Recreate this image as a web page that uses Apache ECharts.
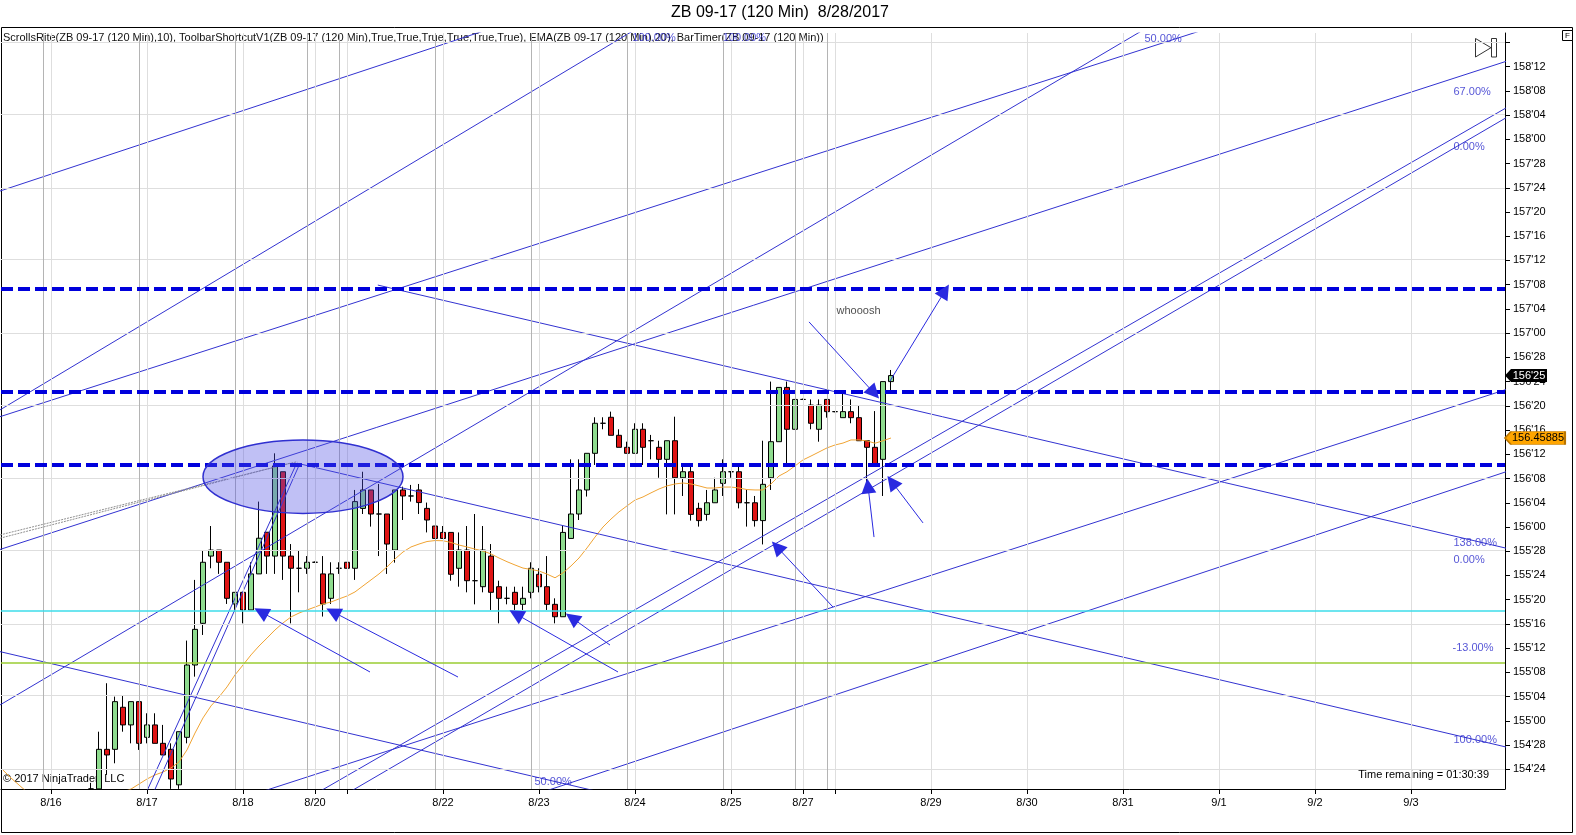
<!DOCTYPE html>
<html><head><meta charset="utf-8">
<script src="https://cdn.jsdelivr.net/npm/echarts@6/dist/echarts.min.js"></script>
<style>html,body{margin:0;padding:0;background:#fff}#c{width:1576px;height:835px}</style>
</head><body><div id="c"></div>
<script>
// ---------- data ----------
const firstBar = -1;
const opens = [
154.649,154.649,154.853,154.853,155.070,154.979,155.099,154.915,154.979,154.884,
154.853,154.67,154.915,155.288,155.503,155.850,155.881,155.818,155.603,155.663,
155.572,155.758,155.973,155.850,156.285,155.850,155.787,155.787,155.818,155.758,
155.632,155.787,155.818,155.787,156.096,156.191,156.067,156.067,155.881,156.191,
156.160,156.191,156.096,156.005,155.972,155.972,155.787,155.881,155.723,155.692,
155.850,155.692,155.632,155.663,155.601,155.663,155.756,155.692,155.601,155.537,
155.941,156.067,156.191,156.380,156.535,156.566,156.473,156.411,156.380,156.504,
156.445,156.411,156.349,156.445,156.254,156.285,156.096,156.065,156.125,156.225,
156.285,156.285,156.125,156.125,156.033,156.254,156.440,156.720,156.504,156.658,
156.629,156.504,156.658,156.595,156.564,156.595,156.564,156.445,156.411,156.349,
156.750];
const closes = [
154.649,154.853,154.824,155.099,154.979,155.099,154.884,154.979,154.884,154.824,
154.70,154.944,155.288,155.472,155.818,155.881,155.818,155.632,155.663,155.572,
155.758,155.942,155.850,156.315,155.850,155.787,155.787,155.818,155.818,155.603,
155.758,155.787,155.787,156.131,156.191,156.067,156.067,155.912,156.191,156.160,
156.160,156.126,156.036,155.941,155.941,155.756,155.881,155.723,155.723,155.881,
155.663,155.632,155.632,155.601,155.632,155.787,155.692,155.601,155.537,155.972,
156.067,156.191,156.380,156.535,156.535,156.473,156.411,156.380,156.504,156.411,
156.445,156.349,156.445,156.254,156.285,156.065,156.033,156.125,156.191,156.285,
156.285,156.125,156.125,156.033,156.220,156.440,156.720,156.504,156.658,156.658,
156.535,156.629,156.595,156.595,156.595,156.564,156.445,156.411,156.320,156.750,
156.781];
const lows = [
154.649,154.649,154.721,154.781,154.944,154.884,154.850,154.884,154.884,154.824,
154.649,154.649,154.884,155.228,155.443,155.787,155.758,155.603,155.563,155.503,
155.572,155.758,155.758,155.758,155.727,155.503,155.663,155.758,155.815,155.538,
155.603,155.758,155.787,155.727,156.067,156.002,155.850,155.758,155.816,156.036,
156.131,156.067,155.972,155.941,155.941,155.723,155.692,155.663,155.601,155.663,
155.572,155.503,155.601,155.572,155.572,155.632,155.663,155.572,155.503,155.537,
155.941,156.036,156.157,156.320,156.504,156.473,156.411,156.380,156.380,156.320,
156.349,156.254,156.065,156.065,156.160,156.033,156.002,156.033,156.125,156.160,
156.254,156.096,156.002,156.002,155.910,156.191,156.440,156.320,156.504,156.655,
156.504,156.440,156.564,156.592,156.564,156.535,156.445,156.225,156.320,156.160,
156.689];
const highs = [
154.68,154.944,155.194,155.125,155.128,155.100,155.100,155.039,155.039,154.979,
154.884,154.944,155.414,155.727,155.881,156.005,155.881,155.818,155.663,155.663,
155.818,156.131,155.973,156.380,156.285,155.912,155.881,155.850,155.822,155.850,
155.818,155.818,155.818,156.191,156.285,156.191,156.222,156.067,156.191,156.208,
156.217,156.222,156.126,156.005,156.005,155.972,155.972,156.005,156.067,156.005,
155.912,155.723,155.692,155.692,155.692,155.818,155.787,155.850,155.632,156.005,
156.349,156.349,156.380,156.566,156.566,156.595,156.504,156.440,156.535,156.535,
156.475,156.445,156.445,156.569,156.320,156.320,156.125,156.191,156.254,156.349,
156.285,156.320,156.191,156.160,156.445,156.750,156.720,156.750,156.658,156.662,
156.658,156.658,156.658,156.598,156.689,156.658,156.629,156.445,156.598,156.750,
156.810];

const emaFirstBar = -12;
const emaValues = [
154.746,154.705,154.669,154.633,154.620,154.610,154.605,154.600,154.600,154.600,
154.600,154.605,154.610,154.615,154.625,154.633,154.648,154.674,154.700,154.721,
154.736,154.757,154.788,154.850,154.937,155.015,155.077,155.123,155.175,155.237,
155.288,155.340,155.386,155.427,155.469,155.505,155.536,155.556,155.572,155.587,
155.603,155.613,155.629,155.644,155.665,155.696,155.727,155.758,155.794,155.835,
155.871,155.897,155.912,155.925,155.930,155.929,155.920,155.907,155.897,155.886,
155.876,155.861,155.840,155.821,155.804,155.788,155.781,155.773,155.757,155.738,
155.763,155.799,155.840,155.892,155.948,156.000,156.041,156.078,156.109,156.139,
156.155,156.176,156.196,156.212,156.222,156.227,156.222,156.212,156.201,156.201,
156.206,156.206,156.201,156.193,156.191,156.191,156.222,156.263,156.285,156.315,
156.346,156.366,156.387,156.408,156.423,156.433,156.449,156.449,156.444,156.432,
156.445,156.459];

const lastPrice = 156.78125;
const emaLast = 156.45885;

// x axis: bar-index ticks and their date labels
const xTickBars   = [-6, 6, 18, 27, 31, 43, 55, 67, 79, 88, 92, 104, 116, 128, 140, 152, 164];
const xTickLabels = ['8/16','8/17','8/18','8/20','','8/22','8/23','8/24','8/25','8/27','','8/29','8/30','8/31','9/1','9/2','9/3'];
const sessionBreakBars = [-7, 5, 17, 26, 30, 42, 54, 66, 78, 87, 91];

// y axis (price, 32nds)
const yTickValues = [154.75,154.875,155,155.125,155.25,155.375,155.5,155.625,155.75,155.875,
  156,156.125,156.25,156.375,156.5,156.625,156.75,156.875,157,157.125,157.25,157.375,
  157.5,157.625,157.75,157.875,158,158.125,158.25,158.375,158.5];
const yLabelValues = yTickValues.slice(0, yTickValues.length - 1);
const yGridValues = [154.75,155.125,155.5,155.875,156.25,156.625,157,157.375,157.75,158.125,158.5];

// drawings (bar index, price)
const resistanceLevels = [157.228, 156.701, 156.320];
const cyanLevel = 155.567;
const greenLevel = 155.297;
const trendLines = [
  [[-12.375,157.733],[50.125,158.587]],
  [[-12.375,156.604],[68.875,158.612]],
  [[-12.375,156.569],[140.125,158.592]],
  [[-12.375,155.082],[132.625,158.615]],
  [[-12.375,155.884],[178.875,158.442]],
  [[18.875,154.615],[178.875,156.749]],
  [[53.875,154.611],[178.875,156.326]],
  [[26.375,154.607],[178.875,158.233]],
  [[30.125,154.604],[178.875,158.183]],
  [[34.85,157.248],[178.875,155.862]],
  [[24.75,156.329],[178.875,154.836]],
  [[-12.375,155.357],[75.125,154.512]],
  [[5.625,154.605],[24.7125,156.329]],
  [[6.55,154.605],[25.125,156.329]]
];
const dottedLines = [
  [[-12.375,155.959],[24.775,156.337]],
  [[-12.375,155.942],[23.8375,156.329]]
];
const arrows = [
  [[33.875,155.252],[20.25,155.562]],
  [[44.875,155.226],[29.25,155.562]],
  [[64.875,155.252],[52.125,155.551]],
  [[63.875,155.391],[59.125,155.531]],
  [[91.75,155.587],[84.75,155.897]],
  [[96.875,155.948],[96.125,156.212]],
  [[103,156.021],[99.125,156.232]],
  [[88.75,157.058],[96.875,156.691]],
  [[98.875,156.753],[105.75,157.218]]
];
const ellipseZone = [25.5, 156.2595, 12.5, 0.1893]; // center bar, center price, half-width bars, half-height price
const drawingLabels = [
  [130.625,158.516,'50.00%'],
  [169.25,158.246,'67.00%'],
  [169.25,157.962,'0.00%'],
  [169.25,155.919,'138.00%'],
  [169.25,155.830,'0.00%'],
  [169.125,155.374,'-13.00%'],
  [169.25,154.901,'100.00%'],
  [54.375,154.686,'50.00%'],
  [66.6,158.523,'100.00%'],
  [77.9,158.523,'100.00%']
];
const noteLabels = [[92.125,157.114,'whooosh']];

// ---------- chart ----------
const FONT = 'Liberation Sans, Arial, sans-serif';
const yMin = 154.6484, yMax = 158.5483;
const xMin = -12.25, xMax = 175.75;
function fmt32(v){
  const w = Math.floor(v + 1e-9);
  let t = Math.round((v - w) * 32);
  return w + "'" + (t < 10 ? '0' + t : '' + t);
}
const candleData = opens.map((o,i)=>[i+firstBar, o, closes[i], lows[i], highs[i]]);
const emaData = emaValues.map((v,i)=>[i+emaFirstBar, v]);

function mlSeries(z, lineStyle, data){
  return {type:'line', data:[], z:z, silent:true, animation:false,
    markLine:{silent:true, animation:false, symbol:['none','none'], label:{show:false},
      emphasis:{disabled:true}, lineStyle:lineStyle, data:data}};
}

const series = [];
series.push(mlSeries(1, {color:'#dedede', width:1, type:'solid'}, yGridValues.map(v=>({yAxis:v}))));
series.push(mlSeries(1, {color:'#dedede', width:1, type:'solid'}, xTickBars.map(v=>({xAxis:v}))));
series.push(mlSeries(1, {color:'#b4b4b4', width:1, type:'solid'}, sessionBreakBars.map(v=>({xAxis:v}))));
series.push(mlSeries(1, {color:'#3cdcea', width:1.5, type:'solid'}, [{yAxis:cyanLevel}]));
series.push(mlSeries(1, {color:'#9acd32', width:1.5, type:'solid'}, [{yAxis:greenLevel}]));

series.push({type:'candlestick', data:candleData, encode:{x:0, y:[1,2,3,4]}, barWidth:5, z:2,
  clip:true, animation:false, silent:true,
  itemStyle:{color:'#8fdc8f', color0:'#e01414', borderColor:'#000', borderColor0:'#000', borderWidth:1}});

series.push({type:'line', data:emaData, showSymbol:false, z:3, clip:true, animation:false, silent:true,
  lineStyle:{color:'#f0a434', width:1}});

trendLines.forEach(l=>series.push({type:'line', data:l, showSymbol:false, z:4, clip:true, animation:false, silent:true,
  lineStyle:{color:'#3232d0', width:1}}));
dottedLines.forEach(l=>series.push({type:'line', data:l, showSymbol:false, z:4, clip:true, animation:false, silent:true,
  lineStyle:{color:'#909090', width:1, type:[2,1]}}));

series.push({type:'custom', z:5, silent:true, animation:false, data:[ellipseZone],
  encode:{x:0, y:1},
  renderItem:(params, api)=>{
    const c = api.coord([api.value(0), api.value(1)]);
    const s = api.size([api.value(2), api.value(3)]);
    return {type:'ellipse', shape:{cx:c[0], cy:c[1], rx:s[0], ry:s[1]},
      style:{fill:'rgba(80,80,228,0.36)', stroke:'#3030d0', lineWidth:1.5}};
  }});

series.push(mlSeries(6, {color:'#0000dc', width:4, type:[12,5]}, resistanceLevels.map(v=>({yAxis:v}))));

series.push({type:'line', data:[], z:7, silent:true, animation:false,
  markLine:{silent:true, animation:false, symbol:['none','triangle'], symbolSize:15,
    label:{show:false}, emphasis:{disabled:true},
    itemStyle:{color:'#1818e8'},
    lineStyle:{color:'#2a2ae0', width:1, type:'solid'},
    data:arrows.map(a=>[{coord:a[0]},{coord:a[1]}])}});

series.push({type:'scatter', z:8, silent:true, animation:false, symbolSize:1,
  itemStyle:{color:'rgba(0,0,0,0)'},
  data:drawingLabels.map(d=>({value:[d[0],d[1]], name:d[2]})),
  label:{show:true, position:'right', distance:0, formatter:'{b}', color:'#2a2acc', fontSize:11, fontFamily:FONT}});
series.push({type:'scatter', z:8, silent:true, animation:false, symbolSize:1,
  itemStyle:{color:'rgba(0,0,0,0)'},
  data:noteLabels.map(d=>({value:[d[0],d[1]], name:d[2]})),
  label:{show:true, position:'right', distance:0, formatter:'{b}', color:'#222', fontSize:11, fontFamily:FONT}});

series.push({type:'scatter', data:[], z:9, clip:false, silent:true, animation:false,
  markPoint:{silent:true, animation:false, data:[
    {coord:[xMax, lastPrice], symbol:'path://M0,6L6,0L42,0L42,12L6,12Z', symbolSize:[42,13], symbolOffset:['50%',0],
      itemStyle:{color:'#000'},
      label:{show:true, position:'inside', offset:[3,0], formatter:()=>fmt32(lastPrice), color:'#fff', fontSize:11, fontFamily:FONT}},
    {coord:[xMax, emaLast], symbol:'path://M0,6L6,0L60,0L60,12L6,12Z', symbolSize:[60,13], symbolOffset:['50%',0],
      itemStyle:{color:'#ffa500', borderColor:'#b87400', borderWidth:1},
      label:{show:true, position:'inside', offset:[3,0], formatter:()=>emaLast.toFixed(5), color:'#000', fontSize:11, fontFamily:FONT}}
  ]}});

const option = {
  animation:false,
  backgroundColor:'#fff',
  textStyle:{fontFamily:FONT},
  grid:{left:1, right:71, top:33, bottom:46, containLabel:false},
  xAxis:{type:'value', min:xMin, max:xMax,
    axisLine:{show:true, onZero:false, lineStyle:{color:'#000', width:1}},
    axisTick:{show:true, length:5, customValues:xTickBars, lineStyle:{color:'#000'}},
    axisLabel:{show:true, customValues:xTickBars, margin:8, color:'#000', fontSize:11, fontFamily:FONT,
      formatter:v=>{const i = xTickBars.indexOf(v); return i>=0 ? xTickLabels[i] : '';}},
    splitLine:{show:false}},
  yAxis:{type:'value', position:'right', min:yMin, max:yMax, scale:true,
    axisLine:{show:true, onZero:false, lineStyle:{color:'#000', width:1}},
    axisTick:{show:true, length:5, customValues:yTickValues, lineStyle:{color:'#000'}},
    axisLabel:{show:true, customValues:yLabelValues, margin:8, color:'#000', fontSize:11, fontFamily:FONT,
      formatter:v=>fmt32(v)},
    splitLine:{show:false}},
  graphic:[
    {type:'text', x:780, y:13, silent:true, style:{text:'ZB 09-17 (120 Min)  8/28/2017', font:'16px "Liberation Sans", Arial', fill:'#000', align:'center', verticalAlign:'middle'}},
    {type:'rect', silent:true, shape:{x:1.5, y:27.5, width:1571, height:805}, style:{fill:'none', stroke:'#000', lineWidth:1}},
    {type:'text', x:3, y:38, silent:true, style:{text:'ScrollsRite(ZB 09-17 (120 Min),10), ToolbarShortcutV1(ZB 09-17 (120 Min),True,True,True,True,True,True), EMA(ZB 09-17 (120 Min),20), BarTimer(ZB 09-17 (120 Min))', font:'11px "Liberation Sans", Arial', fill:'#111', align:'left', verticalAlign:'middle'}},
    {type:'text', x:3, y:779, silent:true, style:{text:'\u00a9 2017 NinjaTrader, LLC', font:'11px "Liberation Sans", Arial', fill:'#000', align:'left', verticalAlign:'middle'}},
    {type:'text', x:1489, y:775, silent:true, style:{text:'Time remaining = 01:30:39', font:'11px "Liberation Sans", Arial', fill:'#000', align:'right', verticalAlign:'middle'}},
    {type:'polygon', silent:true, shape:{points:[[1475.5,38.5],[1475.5,57],[1491,47.7]]}, style:{fill:'#fff', stroke:'#333', lineWidth:1}},
    {type:'rect', silent:true, shape:{x:1491.5, y:38.5, width:5, height:18.5}, style:{fill:'#fff', stroke:'#333', lineWidth:1}},
    {type:'rect', silent:true, shape:{x:1562.5, y:30.5, width:10, height:10}, style:{fill:'#fff', stroke:'#000', lineWidth:1}},
    {type:'text', x:1567.5, y:35.8, silent:true, style:{text:'F', font:'8px "Liberation Sans", Arial', fill:'#000', align:'center', verticalAlign:'middle'}}
  ],
  series:series
};
const chart = echarts.init(document.getElementById('c'), null, {renderer:'canvas'});
chart.setOption(option);
</script>
</body></html>
